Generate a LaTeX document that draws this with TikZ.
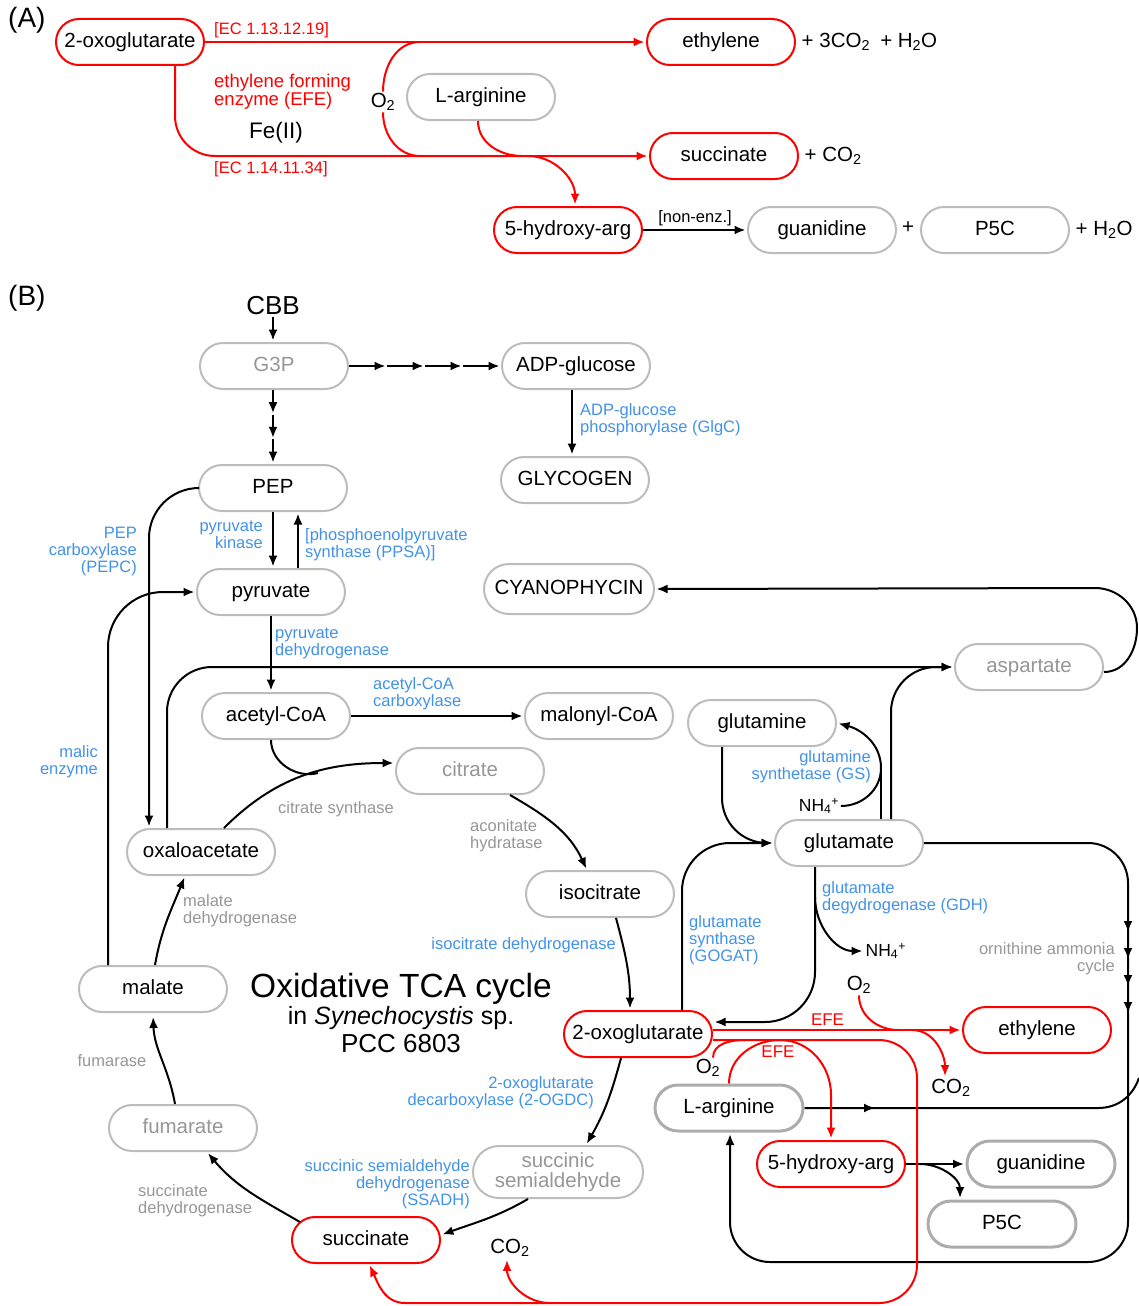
\documentclass[tikz,border=0pt]{standalone}
\usepackage{fontspec}
\setmainfont{Liberation Sans}
\usetikzlibrary{arrows.meta}
\definecolor{enzblue}{RGB}{66,146,232}
\definecolor{txtgray}{RGB}{150,150,150}
\definecolor{linegray}{RGB}{188,188,188}
\definecolor{darkline}{RGB}{172,172,172}
\tikzset{
  met/.style={draw=linegray, line width=2pt, rounded corners=23pt, minimum width=148pt,
    minimum height=46pt, inner sep=0pt, text height=15pt, text depth=4.5pt,
    font=\fontsize{20.5}{22}\selectfont},
  redmet/.style={met, draw=red},
  hmet/.style={met, draw=darkline, line width=3pt},
  pale/.style={text=txtgray},
  enz/.style={text=enzblue, inner sep=0pt, font=\fontsize{16.5}{17}\selectfont},
  cat/.style={text=txtgray, inner sep=0pt, font=\fontsize{16.5}{17}\selectfont},
  ec/.style={text=red, inner sep=0pt, font=\fontsize{16.5}{17}\selectfont},
  chem/.style={inner sep=1.5pt, font=\fontsize{20.5}{22}\selectfont},
  rx/.style={->, line width=2pt, shorten >=1.5pt},
  redrx/.style={rx, red},
  redline/.style={red, line width=2pt},
}
\begin{document}
\begin{tikzpicture}[x=1pt, y=-1pt, >={Latex[length=11pt,width=9pt]}]
\useasboundingbox (0,0) rectangle (1139,1306);
% (A)
\node[anchor=west, inner sep=0pt, font=\fontsize{28}{30}\selectfont] (labA) at (8,20) {(A)};
\node[redmet] (Aoxo) at (130,42) {2-oxoglutarate};
\node[redmet] (Aeth) at (721,42) {ethylene};
\node[met] (Aarg) at (481,97) {L-arginine};
\node[redmet] (Asuc) at (724,156) {succinate};
\node[redmet] (Ahyd) at (568,230) {5-hydroxy-arg};
\node[met] (Agua) at (822,230) {guanidine};
\node[met] (Ap5c) at (995,230) {P5C};
\node[chem, anchor=west, xshift=4pt] (Aethp) at (Aeth.east) {+ 3CO\textsubscript{2}\enspace+ H\textsubscript{2}O};
\node[chem, anchor=west, xshift=4pt] (Asucp) at (Asuc.east) {+ CO\textsubscript{2}};
\node[chem] (Aplus) at (908,228) {+};
\node[chem, anchor=west, xshift=4pt] (Ap5cp) at (Ap5c.east) {+ H\textsubscript{2}O};
\node[ec, anchor=west] (ecA) at (214,30) {[EC 1.13.12.19]};
\node[ec, anchor=west] (ecB) at (214,169) {[EC 1.14.11.34]};
\node[ec, anchor=west, align=left, font=\fontsize{18.5}{17}\selectfont] (efeA) at (214,92) {ethylene forming\\enzyme (EFE)};
\node[chem, font=\fontsize{22.5}{24}\selectfont] (fe) at (276,133) {Fe(II)};
\node[chem] (Ao2) at (383,102) {O\textsubscript{2}};
\coordinate (Atop) at (420,42);
\coordinate (Abot) at (420,156);
\coordinate (Aargj) at (522,156);
\coordinate (Ahydj) at (528,156);

\draw[redrx] (Aoxo.east) -- (Aeth.west);
\draw[redrx, rounded corners=40pt] ([xshift=45pt]Aoxo.south) |- (Asuc.west);
\draw[redline] (Atop) to[out=180,in=90] (Ao2.north);
\draw[redline] (Ao2.south) to[out=-90,in=180] (Abot);
\draw[redline] ([xshift=-3pt]Aarg.south) to[out=-90,in=180] (Aargj);
\draw[redrx] (Ahydj) to[out=0,in=90] ([xshift=7pt]Ahyd.north);
\draw[rx] (Ahyd.east) -- node[above, inner sep=3pt, font=\fontsize{16.5}{17}\selectfont] (nonenz) {[non-enz.]} (Agua.west);

% (B)
\node[anchor=west, inner sep=0pt, font=\fontsize{28}{30}\selectfont] (labB) at (8,298) {(B)};
\node[chem, font=\fontsize{26}{28}\selectfont] (cbb) at (273,306) {CBB};
\node[met,pale] (g3p) at (274,366) {G3P};
\node[met] (adpg) at (576,366) {ADP-glucose};
\node[met] (glyc) at (575,480) {GLYCOGEN};
\node[met] (pep) at (273,488) {PEP};
\node[met] (pyr) at (271,592) {pyruvate};
\node[met, minimum width=170pt, minimum height=50pt, rounded corners=25pt] (cyano) at (569,589) {CYANOPHYCIN};
\node[met,pale] (asp) at (1029,667) {aspartate};
\node[met] (acoa) at (276,716) {acetyl-CoA};
\node[met] (malco) at (599,716) {malonyl-CoA};
\node[met] (gln) at (762,723) {glutamine};
\node[met,pale] (cit) at (470,771) {citrate};
\node[met] (glu) at (849,843) {glutamate};
\node[met] (oaa) at (201,852) {oxaloacetate};
\node[met] (icit) at (600,894) {isocitrate};
\node[met] (mal) at (153,989) {malate};
\node[redmet] (oxo) at (638,1034) {2-oxoglutarate};
\node[redmet] (eth) at (1037,1030) {ethylene};
\node[hmet] (arg) at (729,1108) {L-arginine};
\node[met,pale] (fum) at (183,1128) {fumarate};
\node[redmet] (hyd) at (831,1164) {5-hydroxy-arg};
\node[hmet] (gua) at (1041,1164) {guanidine};
\node[met, pale, align=center, minimum width=170pt, minimum height=52pt, rounded corners=26pt,
  text height=35pt, font=\fontsize{20.5}{20}\selectfont] (ssa) at (558,1172) {succinic\\semialdehyde};
\node[hmet] (p5c) at (1002,1224) {P5C};
\node[redmet] (suc) at (366,1240) {succinate};

\node[font=\fontsize{33.5}{36}\selectfont] (ttlA) at (401,989) {Oxidative TCA cycle};
\node[font=\fontsize{25}{27}\selectfont] (ttlB) at (401,1018) {in \textit{Synechocystis} sp.};
\node[font=\fontsize{26}{28}\selectfont] (ttlC) at (401,1044) {PCC 6803};

\node[enz, anchor=west, align=left] (lglgc) at (580,420) {ADP-glucose\\phosphorylase (GlgC)};
\node[enz, anchor=east, align=right] (lpk) at (263,535) {pyruvate\\kinase};
\node[enz, anchor=west, align=left] (lppsa) at (305,545) {[phosphoenolpyruvate\\synthase (PPSA)]};
\node[enz, anchor=east, align=right] (lpepc) at (137,552) {PEP\\carboxylase\\(PEPC)};
\node[enz, anchor=east, align=right] (lme) at (98,762) {malic\\enzyme};
\node[enz, anchor=west, align=left] (lpdh) at (275,643) {pyruvate\\dehydrogenase};
\node[enz, anchor=west, align=left] (lacc) at (373,694) {acetyl-CoA\\carboxylase};
\node[cat] (lcs) at (336,809) {citrate synthase};
\node[cat, anchor=west, align=left] (lacn) at (470,836) {aconitate\\hydratase};
\node[enz, anchor=east] (lidh) at (616,945) {isocitrate dehydrogenase};
\node[enz, anchor=east, align=right] (logdc) at (594,1093) {2-oxoglutarate\\decarboxylase (2-OGDC)};
\node[enz, anchor=east, align=right] (lssadh) at (470,1184) {succinic semialdehyde\\dehydrogenase\\(SSADH)};
\node[cat, anchor=west, align=left] (lsdh) at (138,1201) {succinate\\dehydrogenase};
\node[cat] (lfum) at (112,1061) {fumarase};
\node[cat, anchor=west, align=left] (lmdh) at (183,911) {malate\\dehydrogenase};
\node[enz, anchor=east, align=right] (lgs) at (871,767) {glutamine\\synthetase (GS)};
\node[enz, anchor=west, align=left] (lgogat) at (689,940) {glutamate\\synthase\\(GOGAT)};
\node[enz, anchor=west, align=left] (lgdh) at (822,898) {glutamate\\degydrogenase (GDH)};
\node[cat, anchor=east, align=right] (lorn) at (1115,959) {ornithine ammonia\\cycle};

\node[chem, font=\fontsize{17.5}{18}\selectfont] (nhA) at (819,806) {NH\textsubscript{4}\textsuperscript{+}};
\node[chem, anchor=west, font=\fontsize{17.5}{18}\selectfont] (nhB) at (864,951) {NH\textsubscript{4}\textsuperscript{+}};
\node[chem] (o2b) at (859,985) {O\textsubscript{2}};
\node[chem] (co2b) at (951,1088) {CO\textsubscript{2}};
\node[chem] (o2c) at (708,1068) {O\textsubscript{2}};
\node[chem] (co2c) at (510,1248) {CO\textsubscript{2}};
\node[ec, font=\fontsize{17}{18}\selectfont] (efeB) at (778,1052) {EFE};

\coordinate (aspr) at (1137,628);
\coordinate (cyr) at (1095,588);
\coordinate (csj) at (318,773);
\coordinate (gsj) at (881,768);
\coordinate (gdhj) at ([xshift=-34pt,yshift=-30pt]glu.south);
\coordinate (ornc) at (1128,1262);
\coordinate (argk) at (1098,1108);
\coordinate (argr) at (1139,1078);
\coordinate (o2j) at (898,1030);
\coordinate (co2j) at (912,1030);
\coordinate (rdc) at (917,1303);
\coordinate (sucj) at (405,1303);
\coordinate (co2k) at (550,1303);
\coordinate (o2k) at (745,1040);
\coordinate (efetop) at (780,1040);

% glycolysis and storage
\draw[rx] (cbb.south) -- (cbb.south |- g3p.north);
\path (g3p.south -| pep.north) coordinate (gp0) -- (pep.north) coordinate[pos=1/3] (gp1) coordinate[pos=2/3] (gp2);
\foreach \a/\b in {gp0/gp1, gp1/gp2, gp2/pep.north}
  \draw[rx] (\a) -- (\b);
\path (g3p.east) -- (adpg.west) coordinate[pos=.25] (ga1) coordinate[pos=.5] (ga2) coordinate[pos=.75] (ga3);
\foreach \a/\b in {g3p.east/ga1, ga1/ga2, ga2/ga3, ga3/adpg.west}
  \draw[rx] (\a) -- (\b);
\draw[rx] ([xshift=-4pt]adpg.south) -- ([xshift=-4pt]adpg.south |- glyc.north);
\draw[rx] (pep.south) -- (pep.south |- pyr.north);
\draw[rx] ([xshift=27pt]pyr.north) -- ([xshift=27pt]pyr.north |- pep.south);
\draw[rx, rounded corners=50pt] (pep.west) -| ([xshift=-52pt]oaa.north);
\draw[rx, rounded corners=55pt] ([xshift=-45pt]mal.north) |- (pyr.west);
\draw[rx] (pyr.south) -- (pyr.south |- acoa.north);
\draw[rx] (acoa.east) -- (malco.west);

% TCA cycle
\draw[line width=2pt] (pyr.south |- acoa.south) to[out=-90,in=195] (csj);
\draw[rx] ([xshift=23pt]oaa.north) to[out=45,in=180] ([yshift=8pt]cit.west);
\draw[rx] ([xshift=40pt]cit.south) to[out=-30,in=115] ([xshift=-13pt]icit.north);
\draw[rx] ([xshift=16pt]icit.south) to[out=-75,in=90] ([xshift=-8pt]oxo.north);
\draw[rx] ([xshift=-17pt]oxo.south) to[out=-105,in=60] ([xshift=28pt]ssa.north);
\draw[rx] ([xshift=-30pt]ssa.south) to[out=-150,in=20] ([yshift=5pt]suc.east);
\draw[rx] ([xshift=-66pt,yshift=-6pt]suc.north) to[out=150,in=-50] ([xshift=24pt]fum.south);
\draw[rx, shorten >=4pt] ([xshift=-8pt]fum.north) to[out=100,in=-88] (mal.south);
\draw[rx] ([xshift=2pt]mal.north) to[out=80,in=-112] ([xshift=-16pt]oaa.south);

% nitrogen
\draw[rx, rounded corners=45pt] ([xshift=-34pt]oaa.north) |- (asp.west);
\draw[rx, rounded corners=45pt] ([xshift=42pt]glu.north) |- (asp.west);
\draw[rx] ([yshift=-5pt]asp.east) to[out=0,in=-90] (aspr) to[out=90,in=0] (cyr) -- (cyano.east);
\draw[rx, rounded corners=45pt] ([xshift=-40pt]gln.south) |- (glu.west);
\draw[rx] (nhA.east) to[out=0,in=-90] (gsj) to[out=90,in=-15] (gln.east);
\draw[line width=2pt] (gsj |- glu.north) -- (gsj);
\draw[rx, rounded corners=48pt] ([xshift=44pt]oxo.north) |- (glu.west);
\draw[rx, rounded corners=50pt] ([xshift=-34pt]glu.south) |- ([yshift=12pt]oxo.east);
\draw[rx] (gdhj) to[out=-90,in=180] (nhB.west);
\draw[rx, rounded corners=40pt] (glu.east) -| (ornc) -| ([xshift=1pt]arg.south);
\foreach \y in {932,959,986,1013}
  \draw[->, line width=2pt] (1128,\y-12) -- (1128,\y);
\draw[line width=2pt] (arg.east) -- (argk) to[out=0,in=-110] (argr);
\draw[rx] (arg.east) -- ([xshift=72pt]arg.east);
\draw[rx] (hyd.east) -- (gua.west);
\draw[rx] ([xshift=14pt]hyd.east) to[out=0,in=90] ([xshift=-42pt]p5c.north);

% EFE
\draw[redrx] ([yshift=4pt]oxo.east) -- node[ec, pos=.46, above=4pt, font=\fontsize{17}{18}\selectfont] (efeC) {EFE} (eth.west);
\draw[redline] (o2b.south) to[out=-90,in=180] (o2j);
\draw[redrx] (co2j) to[out=0,in=90] ([xshift=-6pt]co2b.north);
\draw[redline, rounded corners=38pt] ([yshift=-6pt]oxo.east) -| (rdc) -- (sucj);
\draw[redrx] (sucj) to[out=180,in=-65] ([xshift=3pt]suc.south);
\draw[redrx] (co2k) to[out=180,in=-90] ([xshift=-3pt]co2c.south);
\draw[redline] ([xshift=5pt]o2c.north) to[out=90,in=180] (o2k);
\draw[redrx] (arg.north) to[out=90,in=180] (efetop) to[out=0,in=90] ([yshift=45pt]hyd.north) -- (hyd.north);
\end{tikzpicture}
\end{document}
